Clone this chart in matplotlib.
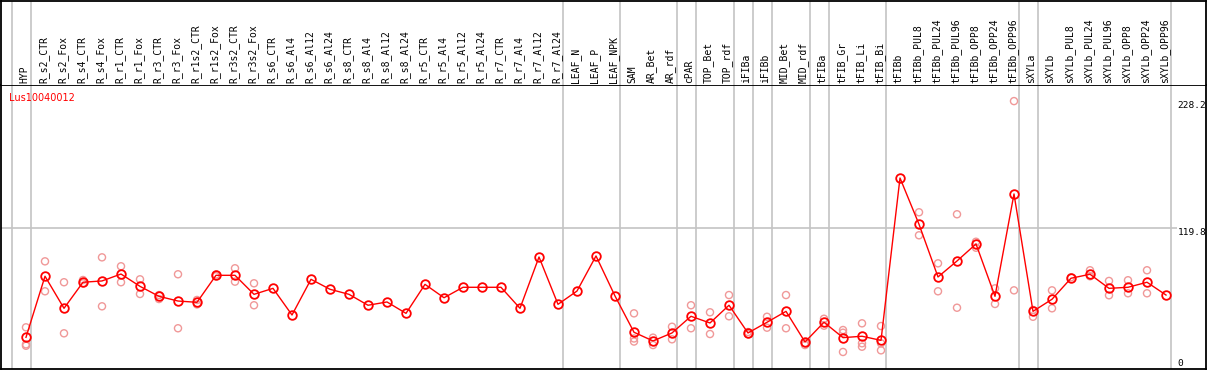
import matplotlib
matplotlib.use("Agg")
import matplotlib.pyplot as plt
import numpy as np

gene = "Lus10040012"

samples = ["HYP", "R_s2_CTR", "R_s2_Fox", "R_s4_CTR", "R_s4_Fox", "R_r1_CTR", "R_r1_Fox",
           "R_r3_CTR", "R_r3_Fox", "R_r1s2_CTR", "R_r1s2_Fox", "R_r3s2_CTR", "R_r3s2_Fox",
           "R_s6_CTR", "R_s6_Al4", "R_s6_Al12", "R_s6_Al24", "R_s8_CTR", "R_s8_Al4",
           "R_s8_Al12", "R_s8_Al24", "R_r5_CTR", "R_r5_Al4", "R_r5_Al12", "R_r5_Al24",
           "R_r7_CTR", "R_r7_Al4", "R_r7_Al12", "R_r7_Al24", "LEAF_N", "LEAF_P", "LEAF_NPK",
           "SAM", "AR_Bet", "AR_rdf", "cPAR", "TOP_Bet", "TOP_rdf", "iFIBa", "iFIBb",
           "MID_Bet", "MID_rdf", "tFIBa", "tFIB_Gr", "tFIB_Li", "tFIB_Bi", "tFIBb",
           "tFIBb_PUL8", "tFIBb_PUL24", "tFIBb_PUL96", "tFIBb_OPP8", "tFIBb_OPP24",
           "tFIBb_OPP96", "sXYLa", "sXYLb", "sXYLb_PUL8", "sXYLb_PUL24", "sXYLb_PUL96",
           "sXYLb_OPP8", "sXYLb_OPP24", "sXYLb_OPP96"]

# mean expression per sample
means = [27.0, 79.0, 51.7, 73.9, 75.0, 80.9, 70.4, 61.9, 57.9, 56.8, 79.8, 79.8, 63.6,
         68.7, 46.0, 76.4, 67.9, 63.6, 54.3, 57.1, 47.4, 72.1, 60.7, 69.6, 69.6,
         69.6, 51.7, 95.4, 55.1, 66.4, 96.3, 62.2,
         31.3, 23.9, 30.7, 44.9, 39.2, 54.3, 30.7, 39.8,
         49.1, 23.0, 39.8, 26.7, 27.9, 24.4, 162.7,
         123.3, 78.4, 92.0, 106.5, 61.9, 149.1,
         49.1, 59.4, 77.3, 80.7, 68.7, 69.6, 73.9, 63.0]

# replicate values per sample
reps = [[35.5, 19.8, 21.0], [91.7, 66.2], [73.9, 30.4], [75.8, 73.0], [95.1, 53.4],
        [87.5, 73.9], [76.4, 63.9], [63.0, 59.6], [80.7, 34.7], [58.8, 55.0],
        [80.5, 79.0], [85.8, 74.4], [73.0, 54.3],
        [], [], [], [], [], [], [], [], [], [], [], [], [], [], [], [], [], [], [],
        [47.4, 26.0, 23.4], [26.7, 20.4], [36.0, 25.3], [54.3, 34.7], [48.3, 29.8],
        [63.0, 44.9], [31.5, 29.6], [44.5, 35.2], [63.0, 34.7], [20.4, 22.1],
        [42.8, 36.9], [33.2, 30.9, 14.5], [38.9, 21.9, 19.0], [36.6, 21.9, 15.9], [],
        [133.5, 113.9], [90.0, 66.2], [131.8, 52.2], [108.4, 103.3], [68.7, 55.4],
        [228.2, 67.0],
        [50.3, 44.5], [67.0, 51.7], [78.1], [84.1, 79.0], [75.0, 62.8], [75.6, 64.5],
        [84.1, 64.5], []]

# sample groups end after these indices
group_ends = [-1, 0, 28, 31, 34, 35, 37, 38, 39, 41, 42, 45, 52, 53, 60]

ytick_vals = [0, 119.8, 228.2]

W, H = 1209, 370
fig = plt.figure(figsize=(W / 100, H / 100), dpi=100)
ax = fig.add_axes([1 / W, 1 / H, 1205 / W, 284 / H])
axh = fig.add_axes([1 / W, 285 / H, 1205 / W, 84 / H], sharex=ax)

x = np.arange(len(samples))
xlo, xhi = -25 / 19, 1180 / 19
ax.set_xlim(xlo, xhi)
ax.set_ylim(0, 284 / 1.174)
axh.set_ylim(0, 1)

grid = "#c4c4c4"
for g in group_ends:
    ax.axvline(g + 0.25, color=grid, lw=1.2, zorder=1)
    axh.axvline(g + 0.25, color=grid, lw=1.2, zorder=1)
ax.hlines(119.8, xlo, 60.6, color=grid, lw=1.2, zorder=1)

# replicates
for i, r in enumerate(reps):
    if r:
        ax.scatter([i] * len(r), r, s=26, facecolors="none", edgecolors="#f09898",
                   linewidths=1.0, zorder=2)

ax.plot(x, means, color="red", lw=1, marker="o", ms=6.2, mfc="none", mec="red",
        mew=1.3, zorder=3)

ax.text(8 / 1205, 0.955, gene, transform=ax.transAxes, color="red",
        fontsize=7, family="DejaVu Sans", va="center", ha="left")

# y value labels at the right edge
mono = "DejaVu Sans Mono"
for v in ytick_vals:
    ax.text(60.6, max(v, 0.8), "%g" % v, fontsize=6.8, family=mono,
            va="bottom" if v == 0 else "top", ha="left")

trans = axh.get_xaxis_transform()
for i, s in enumerate(samples):
    axh.text(i - 0.08, 0.025, s, transform=trans, rotation=90, ha="center",
             va="bottom", fontsize=7, family=mono)

for a in (ax, axh):
    a.set_xticks([])
    a.set_yticks([])
    for sp in a.spines.values():
        sp.set_color("black")
        sp.set_linewidth(1.3)
axh.spines["bottom"].set_visible(False)

fig.savefig("out.png", dpi=100)
